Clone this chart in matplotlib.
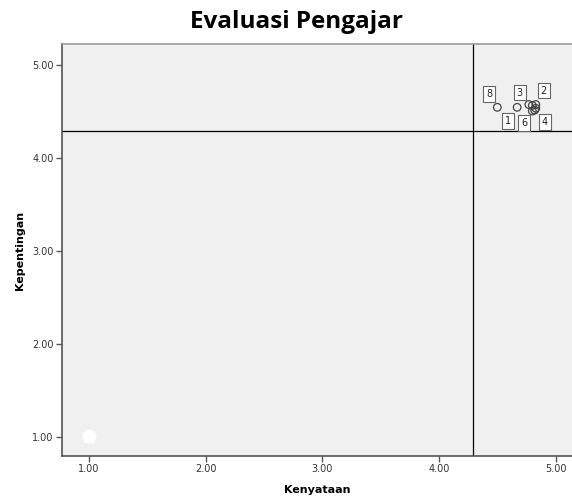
import matplotlib.pyplot as plt

# data
labels = ['1', '2', '3', '4', '5', '6', '7', '8']
kenyataan = [4.67, 4.83, 4.77, 4.82, 4.80, 4.80, 4.83, 4.50]
kepentingan = [4.55, 4.58, 4.58, 4.52, 4.57, 4.51, 4.54, 4.55]
mean_x = 4.29
mean_y = 4.30
x_ticks = [1, 2, 3, 4, 5]
y_ticks = [1, 2, 3, 4, 5]

# label offsets in pixels (labels 5 and 7 are hidden in the cluster)
offsets = {'1': (-9, -14), '2': (8, 14), '3': (-9, 12),
           '4': (10, -12), '6': (-8, -12), '8': (-8, 13)}

fig = plt.figure(figsize=(5.72, 5.01), dpi=100)
ax = fig.add_axes([0.1084, 0.0898, 0.8916, 0.8222])
ax.set_facecolor('#F0F0F0')

ax.set_xlim(0.77, 5.14)
ax.set_ylim(0.80, 5.23)

ax.axvline(mean_x, color='black', lw=0.9, zorder=1)
ax.axhline(mean_y, color='black', lw=0.9, zorder=1)

ax.scatter(kenyataan, kepentingan, s=30, facecolors='none',
           edgecolors='#444444', linewidths=0.9, zorder=3)

# white blob near the origin
ax.plot([1.0], [1.01], marker='o', ms=9, color='white', mec='white', zorder=3)
ax.plot([1.0], [1.00], marker='s', ms=7, color='white', mec='white', zorder=3)

for lab, x, y in zip(labels, kenyataan, kepentingan):
    if lab not in offsets:
        continue
    ax.annotate(lab, (x, y), xytext=offsets[lab], textcoords='offset pixels',
                ha='center', va='center', fontsize=7, color='#222222', zorder=4,
                bbox=dict(boxstyle='square,pad=0.3', fc='white', ec='#666666', lw=0.8))

ax.set_xticks(x_ticks)
ax.set_yticks(y_ticks)
ax.set_xticklabels([f'{v:.2f}' for v in x_ticks], fontsize=7, color='#333333')
ax.set_yticklabels([f'{v:.2f}' for v in y_ticks], fontsize=7, color='#333333')
ax.tick_params(direction='out', length=4, width=1, color='#555555', pad=2)

for side in ['left', 'bottom']:
    ax.spines[side].set_color('#555555')
    ax.spines[side].set_linewidth(1.2)
ax.spines['top'].set_color('#999999')
ax.spines['top'].set_linewidth(1.2)
ax.spines['right'].set_visible(False)

ax.set_xlabel('Kenyataan', fontsize=8, fontweight='bold', labelpad=8)
ax.set_ylabel('Kepentingan', fontsize=8, fontweight='bold', labelpad=5)
fig.text(0.519, 0.957, 'Evaluasi Pengajar', ha='center', va='center',
         fontsize=17.5, fontweight='bold', family='Open Sans')

fig.savefig('out.png', dpi=100)
